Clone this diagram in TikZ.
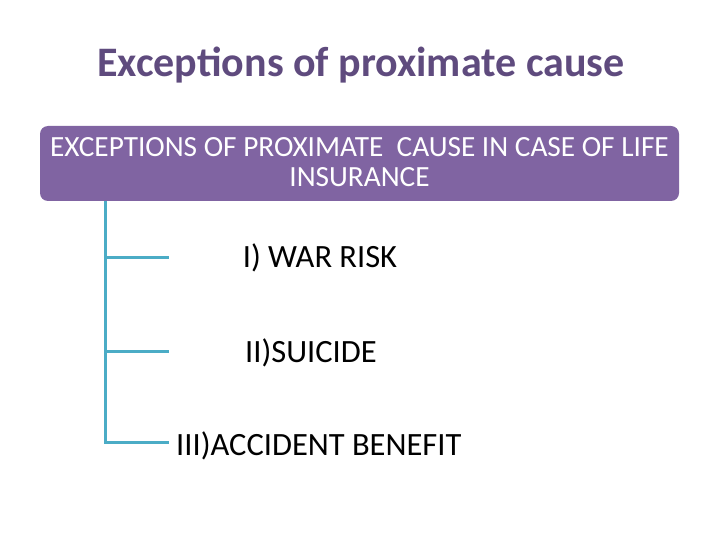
\documentclass[tikz,border=0pt]{standalone}
\usepackage{fontspec}
\setmainfont{Carlito}
\definecolor{titlec}{HTML}{5F4B7E}
\definecolor{boxc}{HTML}{8064A2}
\definecolor{linec}{HTML}{4BACC6}
\begin{document}
\begin{tikzpicture}[x=1pt,y=-1pt,
  item/.style={font=\fontsize{32.5}{38}\selectfont, text=black, inner sep=0pt, anchor=base},
  conn/.style={draw=linec, line width=3pt}]
\useasboundingbox (0,0) rectangle (720,540);
\node[font=\bfseries\fontsize{42}{48}\selectfont, text=titlec, inner sep=0pt, anchor=base] (title) at (361,77) {Exceptions of proximate cause};
\node[fill=boxc, rounded corners=8pt, minimum width=639pt, minimum height=75pt, inner sep=0pt] (head) at (359.5,163.5) {};
\node[text=white, align=center, font=\fontsize{29.3}{30}\selectfont, inner sep=0pt, anchor=base] (htext) at (359.5,187)
  {EXCEPTIONS OF PROXIMATE\ \ CAUSE IN CASE OF LIFE\\INSURANCE};
\coordinate (top) at (105,201);
\coordinate (j1) at (105,257);
\coordinate (j2) at (105,351);
\coordinate (j3) at (105,442);
\coordinate (e1) at (169,257);
\coordinate (e2) at (169,351);
\coordinate (e3) at (169,442);
\node[item] (i1) at (320,267.7) {I) WAR RISK};
\node[item] (i2) at (311,362.3) {II)SUICIDE};
\node[item, anchor=base west] (i3) at (176,455) {III)ACCIDENT BENEFIT};
\draw[conn] (top) -- (j3) -- (e3);
\draw[conn] (j1) -- (e1);
\draw[conn] (j2) -- (e2);
\end{tikzpicture}
\end{document}
